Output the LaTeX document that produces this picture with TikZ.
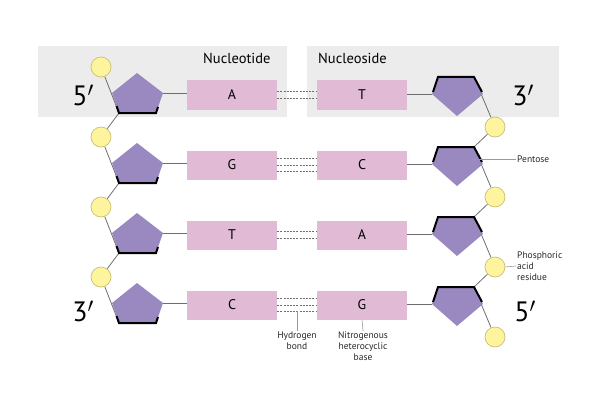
\documentclass[tikz,border=0pt]{standalone}
\usepackage{fontspec}
\setmainfont{PT Sans}
\pgfdeclarelayer{back}
\pgfdeclarelayer{mid}
\pgfsetlayers{back,mid,main}
\definecolor{boxgray}{RGB}{236,236,236}
\definecolor{basepink}{RGB}{225,186,214}
\definecolor{pentpurple}{RGB}{154,136,192}
\definecolor{phosyellow}{RGB}{255,244,158}
\definecolor{phosedge}{RGB}{200,192,120}
\definecolor{linegray}{RGB}{110,110,110}
\tikzset{
  bg/.style={fill=boxgray},
  basebox/.style={fill=basepink, minimum width=90pt, minimum height=29pt, inner sep=0pt, font=\fontsize{14}{16}\selectfont},
  phos/.style={circle, fill=phosyellow, draw=phosedge, line width=0.7pt, minimum size=20pt, inner sep=0pt},
  conn/.style={draw=linegray, line width=0.8pt},
  hbond/.style={draw=linegray, dash pattern=on 2pt off 1.2pt, line width=0.6pt},
  lbl/.style={font=\fontsize{9.5}{11}\selectfont, text=black!85, align=center, inner sep=1pt},
  leader/.style={draw=linegray!70, line width=0.6pt},
  big/.style={font=\fontsize{28}{30}\selectfont, inner sep=0pt},
  head/.style={font=\fontsize{14.5}{16}\selectfont, inner sep=0pt},
  pics/leftpent/.style={code={
    \fill[pentpurple] (0,-22) -- (26,-2) -- (19,18) -- (-18,18) -- (-25,-2) -- cycle;
    \draw[black, line width=2pt, line join=miter] (-20.5,11) -- (-18,18) -- (19,18) -- (21,12);
    \coordinate (-r) at (26,-2);
    \coordinate (-bl) at (-18,18);
  }},
  pics/rightpent/.style={code={
    \fill[pentpurple] (-19,-18) -- (17,-18) -- (26,-1) -- (0,21) -- (-25,-1) -- cycle;
    \draw[black, line width=2pt, line join=miter] (-24,-3) -- (-19,-18) -- (17,-18) -- (25,-3);
    \coordinate (-l) at (-25,-1);
    \coordinate (-tr) at (17,-18);
    \coordinate (-c) at (15,-6);
  }}
}
\begin{document}
\begin{tikzpicture}[x=1pt, y=-1pt]
\useasboundingbox (0,0) rectangle (600,412);
% background panels
\begin{pgfonlayer}{back}
\fill[bg] (38,46) rectangle (287,117);
\fill[bg] (307,46) rectangle (559,117);
\end{pgfonlayer}
\node[head, anchor=west] (nt) at (203,58) {Nucleotide};
\node[head, anchor=west] (ns) at (318,58) {Nucleoside};
% phosphates
\node[phos] (lp0) at (101,67) {};
\node[phos] (lp1) at (101,137) {};
\node[phos] (lp2) at (101,207) {};
\node[phos] (lp3) at (101,277) {};
\node[phos] (rp1) at (495,127) {};
\node[phos] (rp2) at (495,197) {};
\node[phos] (rp3) at (495,267) {};
\node[phos] (rp4) at (495,337) {};
% bases
\foreach \i/\y/\a/\b in {1/95/A/T, 2/165/G/C, 3/235/T/A, 4/305/C/G}{
  \node[basebox] (la\i) at (232,\y) {\a};
  \node[basebox] (rb\i) at (362,\y) {\b};
}
% sugars
\path (137,95) pic (L1) {leftpent};
\path (137,165) pic (L2) {leftpent};
\path (137,235) pic (L3) {leftpent};
\path (137,305) pic (L4) {leftpent};
\path (457,95) pic (R1) {rightpent};
\path (457,165) pic (R2) {rightpent};
\path (457,235) pic (R3) {rightpent};
\path (457,305) pic (R4) {rightpent};
% backbone and sugar-base bonds, beneath the shapes
\begin{pgfonlayer}{mid}
\draw[conn] (lp0) -- (L1-bl) -- (lp1) -- (L2-bl) -- (lp2) -- (L3-bl) -- (lp3) -- (L4-bl);
\draw[conn] (R1-tr) -- (rp1) -- (R2-tr) -- (rp2) -- (R3-tr) -- (rp3) -- (R4-tr) -- (rp4);
\foreach \i in {1,2,3,4}{
  \draw[conn] (L\i-r) -- (la\i.west |- L\i-r);
  \draw[conn] (rb\i.east |- R\i-l) -- (R\i-l);
}
\end{pgfonlayer}
% hydrogen bonds
\foreach \i in {1,3}{
  \draw[hbond] ([yshift=-3.5pt]la\i.east) -- ([yshift=-3.5pt]rb\i.west);
  \draw[hbond] ([yshift=3.5pt]la\i.east) -- ([yshift=3.5pt]rb\i.west);
}
\foreach \i in {2,4}{
  \draw[hbond] ([yshift=-6.5pt]la\i.east) -- ([yshift=-6.5pt]rb\i.west);
  \draw[hbond] (la\i.east) -- (rb\i.west);
  \draw[hbond] ([yshift=6.5pt]la\i.east) -- ([yshift=6.5pt]rb\i.west);
}
% ends
\node[big] (p5a) at (83,95) {5$'$};
\node[big] (p3a) at (523,95) {3$'$};
\node[big] (p3b) at (83,311) {3$'$};
\node[big] (p5b) at (525,311) {5$'$};
% annotations
\node[lbl, anchor=west] (pent) at (516,159) {Pentose};
\draw[leader] (R2-c) -- (pent.west);
\node[lbl, anchor=west, align=left] (pho) at (516,266) {Phosphoric\\acid\\residue};
\draw[leader] (rp3.east) -- (pho.west);
\coordinate (hb) at (297,311);
\node[lbl, anchor=north] (hyd) at (297,331) {Hydrogen\\bond};
\draw[leader] (hb) -- (hyd.north);
\node[lbl, anchor=north] (nit) at (363,331) {Nitrogenous\\heterocyclic\\base};
\draw[leader] (rb4.south) -- (nit.north);
\end{tikzpicture}
\end{document}
